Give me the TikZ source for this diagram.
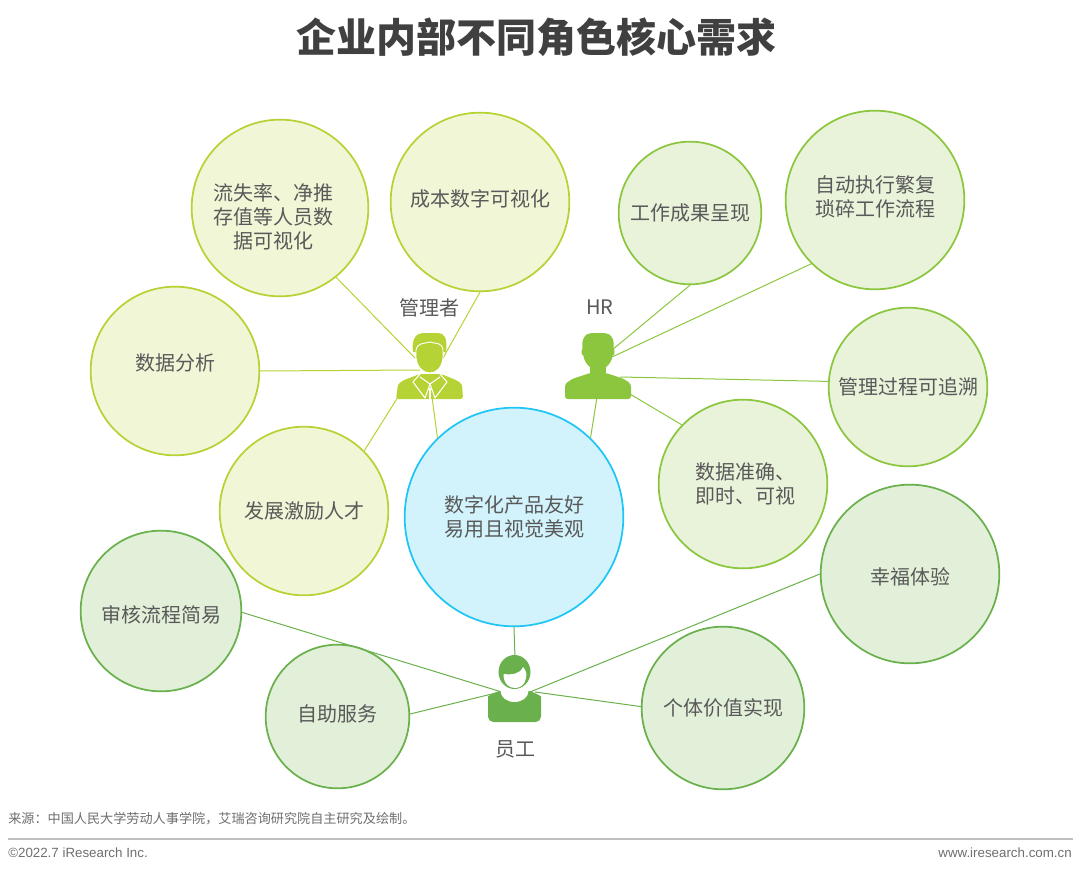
\documentclass[tikz,border=0pt]{standalone}
\usepackage{fontspec}
\setmainfont{Noto Sans CJK SC}
\newfontfamily\latinfont{Liberation Sans}
\definecolor{txt}{HTML}{595959}
\definecolor{ftxt}{HTML}{6E6E6E}
\definecolor{titlec}{HTML}{404040}
\definecolor{yl}{HTML}{B5D334}
\definecolor{ylf}{HTML}{F0F6D6}
\definecolor{hrc}{HTML}{8CC63F}
\definecolor{hrf}{HTML}{E8F3DA}
\definecolor{emc}{HTML}{6AB04C}
\definecolor{emf}{HTML}{E2F0D9}
\definecolor{cyc}{HTML}{1FC5F5}
\definecolor{cyf}{HTML}{D2F3FC}
\tikzset{
  bub/.style={circle,inner sep=0pt,align=center,text=txt,font=\fontsize{15}{18}\selectfont,line width=1.3pt,minimum size=#1*1.5pt-1pt},
  mgrb/.style={bub=#1,draw=yl,fill=ylf},
  hrb/.style={bub=#1,draw=hrc,fill=hrf},
  empb/.style={bub=#1,draw=emc,fill=emf},
  cenb/.style={bub=#1,draw=cyc,fill=cyf},
  lnm/.style={draw=yl,line width=0.75pt},
  lnh/.style={draw=hrc,line width=0.75pt},
  lne/.style={draw=emc,line width=0.75pt},
  lab/.style={text=txt,font=\fontsize{15}{18}\selectfont,inner sep=0pt,align=center},
  foot/.style={text=ftxt,font=\fontsize{9.85}{12}\selectfont,inner sep=0pt}
}
\begin{document}
\begin{tikzpicture}[x=0.75pt,y=-0.75pt]
\useasboundingbox (0,0) rectangle (1080,873);
\node[inner sep=0pt,text=titlec,font=\fontsize{30}{36}\selectfont\bfseries] (title) at (536,37) {企业内部不同角色核心需求};
% bubbles
\node[mgrb=89,label={[lab,xshift=-5.25pt,yshift=-6.75pt]center:流失率、净推\\存值等人员数\\据可视化}] (liu) at (280,208) {};
\node[mgrb=90,label={[lab,yshift=2.25pt]center:成本数字可视化}] (cheng) at (480,202) {};
\node[mgrb=85,label={[lab,yshift=6pt]center:数据分析}] (shu) at (175,371) {};
\node[mgrb=85] (fa) at (304,511) {发展激励人才};
\node[hrb=72] (gong) at (690,213) {工作成果呈现};
\node[hrb=90,label={[lab,yshift=2.25pt]center:自动执行繁复\\琐碎工作流程}] (zi) at (875,200) {};
\node[hrb=80] (guan) at (908,387) {管理过程可追溯};
\node[hrb=85,label={[lab,xshift=1.5pt]center:数据准确、\\即时、可视}] (zhun) at (743,484) {};
\node[cenb=110] (cen) at (514,517) {数字化产品友好\\易用且视觉美观};
\node[empb=90,label={[lab,yshift=-2.25pt]center:幸福体验}] (xing) at (910,574) {};
\node[empb=81,label={[lab,yshift=-3pt]center:审核流程简易}] (shen) at (161,611) {};
\node[empb=82] (ge) at (723,708) {个体价值实现};
\node[empb=72.5,label={[lab,yshift=1.9pt]center:自助服务}] (zh) at (337.5,716.5) {};
% hubs
\coordinate (m1) at (415,358);
\coordinate (m2) at (443,358);
\coordinate (m3) at (420,370);
\coordinate (m4) at (398,397);
\coordinate (m5) at (432,397);
\coordinate (h1) at (612,350);
\coordinate (h2) at (612,357);
\coordinate (h3) at (620,377);
\coordinate (h4) at (630,394);
\coordinate (h5) at (597,397);
\coordinate (e1) at (505,693);
\coordinate (e2) at (500,692);
\coordinate (e3) at (515,658);
\coordinate (e4) at (530,692);
\coordinate (e5) at (535,692);
% connectors
\draw[lnm] (liu.-51) -- (m1);
\draw[lnm] (cheng.-90) -- (m2);
\draw[lnm] (shu.0) -- (m3);
\draw[lnm] (fa.45) -- (m4);
\draw[lnm] (cen.134) -- (m5);
\draw[lnh] (gong.-90) -- (h1);
\draw[lnh] (zi.-135) -- (h2);
\draw[lnh] (guan.176) -- (h3);
\draw[lnh] (zhun.136) -- (h4);
\draw[lnh] (cen.46) -- (h5);
\draw[lne] (shen.-1) -- (e1);
\draw[lne] (cen.-90) -- (e3);
\draw[lne] (xing.180) -- (e4);
\draw[lne] (ge.179) -- (e5);
\draw[lne] (zh.2) -- (e2);
% manager icon
\fill[yl,rounded corners=2pt] (396,399) -- (398,384) -- (404,380) -- (420,374) -- (441,374) -- (456,380) -- (462,384) -- (463,399) -- cycle;
\fill[yl] (413,352) .. controls (411,338) and (417,333) .. (423,333) -- (438,333) .. controls (444,333) and (448,338) .. (446,352) -- cycle;
\fill[yl,draw=white,line width=0.7pt] (416,350) .. controls (418,342) and (424,344) .. (430,342) .. controls (436,344) and (442,342) .. (443,350) -- (443,358) .. controls (442,368) and (436,373) .. (430,373) .. controls (424,373) and (417,368) .. (416,358) -- cycle;
\draw[white,line width=0.8pt,line join=round] (420,374) -- (413,382) -- (425,398) -- (430,384) -- (435,398) -- (447,382) -- (440,374);
\draw[white,line width=0.8pt,line join=round] (420,377) -- (430,384) -- (440,377);
\draw[white,line width=0.8pt] (430,388) -- (430,399);
% HR icon
\fill[hrc,rounded corners=2pt] (565,399) -- (565,384) -- (572,379) -- (590,373) -- (606,373) -- (624,379) -- (631,384) -- (631,399) -- cycle;
\fill[hrc] (590,360) -- (606,360) -- (606,376) -- (590,376) -- cycle;
\fill[hrc] (583,352) .. controls (580,338) and (586,333) .. (592,333) -- (604,333) .. controls (610,333) and (616,338) .. (613,352) .. controls (613,362) and (606,370) .. (598,370) .. controls (590,370) and (583,362) .. (583,352) -- cycle;
\fill[hrc] (583,352) ellipse (1.5 and 3.5);
\fill[hrc] (613,352) ellipse (1.5 and 3.5);
% employee icon
\fill[emc,rounded corners=4pt] (488,722) -- (488,702) .. controls (488,696) and (494,693) .. (502,690) -- (527,690) .. controls (535,693) and (541,696) .. (541,702) -- (541,722) -- cycle;
\fill[white] (514.5,691) ellipse (14 and 11);
\fill[emc] (514.5,672) ellipse (16 and 17);
\fill[white] (503.5,674) .. controls (512,675) and (520,674) .. (523,667) .. controls (526,670) and (527,674) .. (526,678) .. controls (525,685) and (520,688) .. (515,688) .. controls (509,688) and (503.5,684) .. (503.5,674) -- cycle;
% labels
\node[lab] (lm) at (429,308) {管理者};
\node[lab] (lh) at (600,307) {HR};
\node[lab] (le) at (515,749) {员工};
% footer
\node[foot,anchor=west] (src) at (8,819) {来源：中国人民大学劳动人事学院，艾瑞咨询研究院自主研究及绘制。};
\coordinate (ra) at (8,839);
\coordinate (rb) at (1073,839);
\draw[color=black!25,line width=1.2pt] (ra) -- (rb);
\node[foot,anchor=west,font=\fontsize{10}{12}\selectfont\latinfont] (cp) at (8,853) {©2022.7 iResearch Inc.};
\node[foot,anchor=east,font=\fontsize{10}{12}\selectfont\latinfont] (web) at (1072,853) {www.iresearch.com.cn};
\end{tikzpicture}
\end{document}
